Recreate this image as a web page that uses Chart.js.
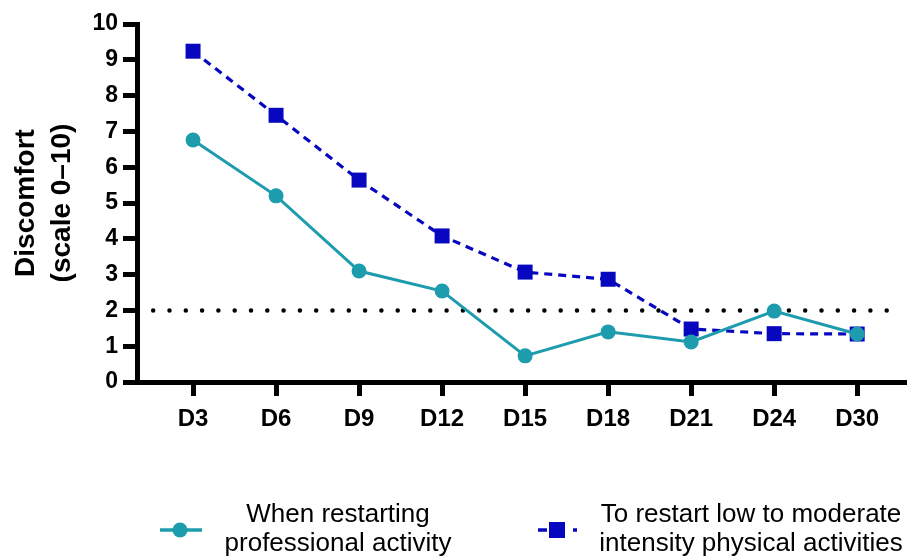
<!DOCTYPE html>
<html>
<head>
<meta charset="utf-8">
<script src="https://cdn.jsdelivr.net/npm/chart.js@4/dist/chart.umd.min.js"></script>
<style>
  html, body { margin: 0; padding: 0; background: #fff; overflow: hidden; }
  #wrap { position: relative; width: 907px; height: 558px; overflow: hidden; }
  .legend { position: absolute; left: 0; top: 499px; width: 907px; height: 59px; font-family: "Liberation Sans", Arial, sans-serif; font-size: 26px; color: #000; line-height: 29px; }
  .legend .txt { position: absolute; top: 0; text-align: center; white-space: nowrap; }
  .legend canvas { position: absolute; }
</style>
</head>
<body>
<div id="wrap">
  <canvas id="chart" width="907" height="558"></canvas>
  <div class="legend" id="legend"></div>
</div>
<script>
// data
const days = ['D3', 'D6', 'D9', 'D12', 'D15', 'D18', 'D21', 'D24', 'D30'];
const professional = [6.76, 5.2, 3.1, 2.54, 0.73, 1.4, 1.12, 1.98, 1.34];
const physical = [9.24, 7.45, 5.64, 4.08, 3.07, 2.87, 1.48, 1.35, 1.34];
const yTicks = [0, 1, 2, 3, 4, 5, 6, 7, 8, 9, 10];
const threshold = 2;
const seriesNames = [['When restarting', 'professional activity'], ['To restart low to moderate', 'intensity physical activities']];

const TEAL = '#1c9cad';
const BLUE = '#0707c0';
const FONT = '"Liberation Sans", Arial, sans-serif';

// dotted reference line at y = threshold
const refLine = {
  id: 'refLine',
  beforeDatasetsDraw(chart) {
    const { ctx, scales: { x, y } } = chart;
    const py = y.getPixelForValue(threshold);
    ctx.save();
    ctx.strokeStyle = '#000';
    ctx.lineWidth = 4.5;
    ctx.lineCap = 'round';
    ctx.setLineDash([0, 16.3]);
    ctx.beginPath();
    ctx.moveTo(x.getPixelForValue(-0.48), py);
    ctx.lineTo(x.getPixelForValue(8.4), py);
    ctx.stroke();
    ctx.restore();
  }
};

const pts = arr => arr.map((v, i) => ({ x: i, y: v }));

new Chart(document.getElementById('chart'), {
  type: 'line',
  data: {
    datasets: [
      {
        label: seriesNames[0].join(' '),
        data: pts(professional),
        borderColor: TEAL,
        backgroundColor: TEAL,
        borderWidth: 3,
        pointStyle: 'circle',
        pointRadius: 7.5,
        pointBorderWidth: 0,
        tension: 0,
        clip: false
      },
      {
        label: seriesNames[1].join(' '),
        data: pts(physical),
        borderColor: BLUE,
        backgroundColor: BLUE,
        borderWidth: 3.2,
        borderDash: [8, 6],
        pointStyle: 'rect',
        pointRadius: 10.6,
        pointBorderWidth: 0,
        tension: 0,
        clip: false
      }
    ]
  },
  options: {
    responsive: false,
    animation: false,
    layout: { autoPadding: false, padding: { top: 24, right: 0, left: 0, bottom: 0 } },
    plugins: { legend: { display: false }, tooltip: { enabled: false } },
    scales: {
      x: {
        type: 'linear',
        min: -0.675,
        max: 8.6,
        afterBuildTicks: s => { s.ticks = days.map((d, i) => ({ value: i })); },
        afterFit: s => { s.height = 176; s.paddingLeft = 0; s.paddingRight = 0; },
        border: { color: '#000', width: 5 },
        grid: { drawOnChartArea: false, drawTicks: true, tickLength: 14, tickWidth: 5, tickColor: '#000' },
        ticks: {
          callback: (v) => days[v],
          color: '#000',
          padding: 9,
          maxRotation: 0,
          autoSkip: false,
          font: { family: FONT, size: 24, weight: 'bold' }
        }
      },
      y: {
        min: 0,
        max: 10,
        afterBuildTicks: s => { s.ticks = yTicks.map(v => ({ value: v })); },
        afterFit: s => { s.width = 137; s.paddingTop = 0; s.paddingBottom = 0; },
        border: { color: '#000', width: 5 },
        grid: { drawOnChartArea: false, drawTicks: true, tickLength: 14, tickWidth: 5, tickColor: '#000' },
        ticks: {
          color: '#000',
          padding: 5,
          font: { family: FONT, size: 23, weight: 'bold' }
        },
        title: {
          display: true,
          text: ['Discomfort', '(scale 0–10)'],
          color: '#000',
          padding: { top: 8, bottom: 0 },
          font: { family: FONT, size: 28, weight: 'bold', lineHeight: 1.3 }
        }
      }
    }
  },
  plugins: [refLine]
});

// legend below the chart
const legend = document.getElementById('legend');
function marker(left, color, kind) {
  const c = document.createElement('canvas');
  c.width = 50; c.height = 24;
  c.style.left = left + 'px';
  c.style.top = '19px';
  const g = c.getContext('2d');
  g.strokeStyle = color; g.fillStyle = color; g.lineWidth = 3.5;
  if (kind === 'circle') {
    g.beginPath(); g.moveTo(2, 12); g.lineTo(44, 12); g.stroke();
    g.beginPath(); g.arc(22, 12, 7.5, 0, Math.PI * 2); g.fill();
  } else {
    g.beginPath(); g.moveTo(3, 12); g.lineTo(12, 12); g.stroke();
    g.fillRect(14, 4, 16, 16);
    g.beginPath(); g.moveTo(38, 12); g.lineTo(42, 12); g.stroke();
  }
  legend.appendChild(c);
}
function label(center, lines) {
  const d = document.createElement('div');
  d.className = 'txt';
  d.style.left = (center - 250) + 'px';
  d.style.width = '500px';
  d.innerHTML = lines.join('<br>');
  legend.appendChild(d);
}
marker(158, TEAL, 'circle');
label(338, seriesNames[0]);
marker(535, BLUE, 'rect');
label(751, seriesNames[1]);
</script>
</body>
</html>
